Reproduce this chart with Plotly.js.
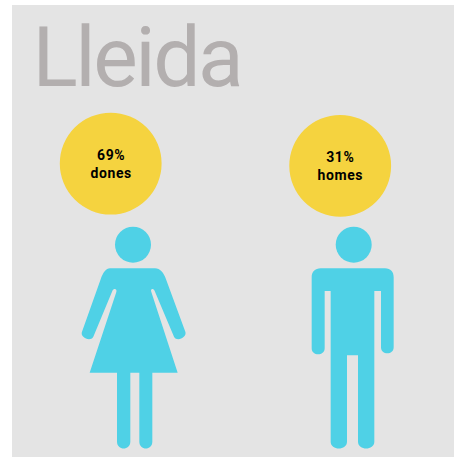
<!DOCTYPE html>
<html><head><meta charset="utf-8">
<script src="https://cdn.plot.ly/plotly-3.0.1.min.js"></script>
<style>html,body{margin:0;padding:0;background:#fff}#c{width:454px;height:457px}
.annotation .annotation-text{letter-spacing:0.6px}
.annotation[data-index="0"] .annotation-text{letter-spacing:-2.5px}</style>
</head><body><div id="c"></div>
<script>
var regionTitle = "Lleida";
var groups = ["dones", "homes"];
var shares = [69, 31];

var panelColor = "#e4e4e4", figureColor = "#4fd1e6", circleColor = "#f5d33f", titleColor = "#b3afaf";

// pictogram outlines
function P(ox, oy){ return function(x,y){ return (x/3+ox).toFixed(2)+","+(y/3+oy).toFixed(2); }; }
function womanPath(){
  var p = P(60,220);
  return "M"+p(150,145)+" L"+p(285,145)+" C"+p(300,145)+" "+p(311,158)+" "+p(318,178)+
    " L"+p(376,335)+" C"+p(382,350)+" "+p(352,368)+" "+p(342,350)+
    " L"+p(284,213)+" C"+p(280,204)+" "+p(270,206)+" "+p(274,216)+
    " L"+p(353,458)+" L"+p(277,458)+" L"+p(277,665)+" C"+p(277,692)+" "+p(238,692)+" "+p(238,665)+
    " L"+p(238,458)+" L"+p(211,458)+" L"+p(211,665)+" C"+p(211,692)+" "+p(171,692)+" "+p(171,665)+
    " L"+p(171,458)+" L"+p(89,458)+" L"+p(169,216)+" C"+p(172,206)+" "+p(161,204)+" "+p(157,213)+
    " L"+p(100,350)+" C"+p(90,368)+" "+p(59,350)+" "+p(66,335)+
    " L"+p(122,178)+" C"+p(129,158)+" "+p(138,145)+" "+p(150,145)+" Z";
}
function manPath(){
  var p = P(290,220);
  return "M"+p(92,145)+" L"+p(285,145)+" C"+p(302,145)+" "+p(311,156)+" "+p(311,172)+
    " L"+p(311,382)+" C"+p(311,406)+" "+p(273,406)+" "+p(273,382)+
    " L"+p(273,213)+" L"+p(253,213)+" L"+p(253,665)+" C"+p(253,692)+" "+p(204,692)+" "+p(204,665)+
    " L"+p(204,406)+" L"+p(171,406)+" L"+p(171,665)+" C"+p(171,692)+" "+p(122,692)+" "+p(122,665)+
    " L"+p(122,213)+" L"+p(104,213)+" L"+p(104,385)+" C"+p(104,409)+" "+p(65,409)+" "+p(65,385)+
    " L"+p(65,172)+" C"+p(65,156)+" "+p(75,145)+" "+p(92,145)+" Z";
}
function circle(cx,cy,r,color){
  return {type:"circle",xref:"x",yref:"y",x0:cx-r,x1:cx+r,y0:cy-r,y1:cy+r,fillcolor:color,line:{width:0},layer:"above"};
}
var shapes = [
  {type:"rect",xref:"x",yref:"y",x0:12,x1:454,y0:5,y1:457,fillcolor:panelColor,line:{width:0},layer:"below"},
  circle(110.7,163.6,50.9,circleColor),
  circle(340.2,165.8,50.9,circleColor),
  circle(133,244.7,18,figureColor),
  circle(353.7,244.7,18,figureColor),
  {type:"path",path:womanPath(),fillcolor:figureColor,line:{width:0},layer:"above"},
  {type:"path",path:manPath(),fillcolor:figureColor,line:{width:0},layer:"above"}
];
var labelX=[110.8,340], labelY=[164,165.6];
var annotations = [{
  text:regionTitle,x:23,y:90,xref:"x",yref:"y",xanchor:"left",yanchor:"bottom",yshift:-19,showarrow:false,
  font:{family:"Roboto",size:84,color:titleColor}
}];
groups.forEach(function(g,i){
  annotations.push({text:"<b>"+shares[i]+"%<br>"+g+"</b>",x:labelX[i],y:labelY[i],xref:"x",yref:"y",
    xanchor:"center",yanchor:"middle",showarrow:false,align:"center",
    font:{family:"Roboto",size:14,color:"#000000"}});
});
Plotly.newPlot("c",[{x:[0,454],y:[0,457],type:"scatter",mode:"markers",marker:{opacity:0},hoverinfo:"skip",showlegend:false}],{
  width:454,height:457,margin:{l:0,r:0,t:0,b:0},paper_bgcolor:"#ffffff",plot_bgcolor:"rgba(0,0,0,0)",
  xaxis:{range:[0,454],visible:false,fixedrange:true},
  yaxis:{range:[457,0],visible:false,fixedrange:true},
  shapes:shapes,annotations:annotations,showlegend:false
},{displayModeBar:false,staticPlot:true});
</script></body></html>
